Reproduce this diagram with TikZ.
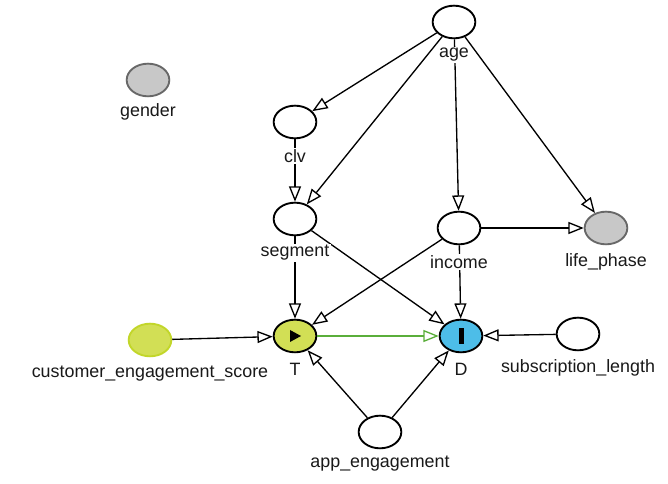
\documentclass[tikz,border=0pt]{standalone}
\usepackage{fontspec}
\setmainfont{Liberation Sans}
\usetikzlibrary{arrows.meta,shapes.geometric}
\definecolor{treatfill}{HTML}{D2DF55}
\definecolor{treatdraw}{HTML}{C2D62A}
\definecolor{outfill}{HTML}{4DBDE8}
\definecolor{latfill}{HTML}{C8C8C8}
\definecolor{latdraw}{HTML}{686868}
\definecolor{causal}{HTML}{5AAE3A}

\begin{document}
\begin{tikzpicture}[
  x=0.75pt, y=-0.75pt,
  var/.style={ellipse,draw,line width=1.4pt,fill=white,minimum width=32pt,minimum height=24.5pt,inner sep=0pt},
  latent/.style={var,draw=latdraw,fill=latfill},
  exposure/.style={var,fill=treatfill},
  outcome/.style={var,fill=outfill},
  adjusted/.style={var,draw=treatdraw,fill=treatfill},
  lbl/.style={fill=white,inner sep=1pt,font=\fontsize{13.4}{15}\selectfont,text=black!90},
  edge/.style={line width=1pt,-{Triangle[open,length=11.5pt,width=9pt]}},
  cedge/.style={edge,draw=causal}
]
  \useasboundingbox (0,0) rectangle (668,484);
  \node[var] (age) at (454,22) {};
  \node[latent] (gender) at (148,80) {};
  \node[var] (clv) at (295,122) {};
  \node[var] (segment) at (295,219) {};
  \node[var] (income) at (459,228) {};
  \node[latent] (life_phase) at (606,228) {};
  \node[exposure] (T) at (295,336) {};
  \node[outcome] (D) at (461,336) {};
  \node[adjusted] (ces) at (150,340) {};
  \node[var] (sublen) at (578,334) {};
  \node[var] (appeng) at (380,432) {};
  \fill (T.center) ++(-5,-6) -- ++(11,6) -- ++(-11,6) -- cycle;
  \fill (D.center) ++(-2.5,-8) rectangle ++(5,16);
  \draw[edge] (age) -- (clv);
  \draw[edge] (age) -- (segment);
  \draw[edge] (age) -- (income);
  \draw[edge] (age) -- (life_phase);
  \draw[edge] (clv) -- (segment);
  \draw[edge] (segment) -- (T);
  \draw[edge] (segment) -- (D);
  \draw[edge] (income) -- (T);
  \draw[edge] (income) -- (D);
  \draw[edge] (income) -- (life_phase);
  \draw[edge] (ces) -- (T);
  \draw[edge] (sublen) -- (D);
  \draw[edge] (appeng) -- (T);
  \draw[edge] (appeng) -- (D);
  \draw[cedge] (T) -- (D);
  \node[lbl] (age-l) at (454,55) {age};
  \node[lbl] (gender-l) at (148,112) {gender};
  \node[lbl] (clv-l) at (295,156) {clv};
  \node[lbl] (segment-l) at (295,253) {segment};
  \node[lbl] (income-l) at (459,262) {income};
  \node[lbl] (life_phase-l) at (606,262) {life\_phase};
  \node[lbl] (T-l) at (295,369) {T};
  \node[lbl] (D-l) at (461,369) {D};
  \node[lbl] (ces-l) at (150,374) {customer\_engagement\_score};
  \node[lbl] (sublen-l) at (578,368) {subscription\_length};
  \node[lbl] (appeng-l) at (380,464) {app\_engagement};
\end{tikzpicture}
\end{document}
